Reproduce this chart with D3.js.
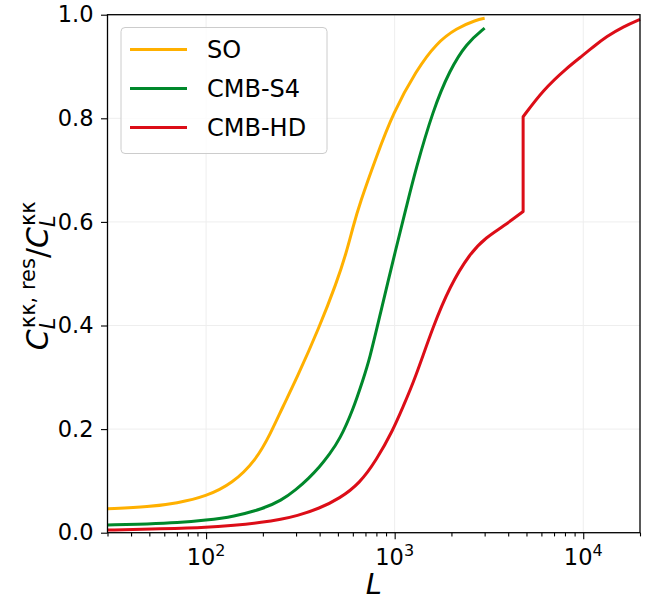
<!DOCTYPE html>
<html>
<head>
<meta charset="utf-8">
<script src="https://cdn.jsdelivr.net/npm/d3@7"></script>
<style>
  body { margin: 0; background: #fff; }
  text { font-family: "DejaVu Sans", sans-serif; fill: #000; }
</style>
</head>
<body>
<script>
// multipole L and residual fraction
const soL = [30, 50, 70, 100, 138, 184, 220, 255, 300, 400, 490, 554, 601, 652, 800, 980, 1304, 1664, 2126, 2716, 3000]
const soV = [0.046, 0.050, 0.057, 0.070, 0.095, 0.140, 0.192, 0.243, 0.295, 0.398, 0.481, 0.540, 0.590, 0.635, 0.726, 0.810, 0.893, 0.945, 0.974, 0.990, 0.993]

const s4L = [30, 50, 70, 100, 140, 200, 250, 300, 350, 400, 450, 510, 601, 679, 736, 832, 1021, 1154, 1290, 1597, 1958, 2403, 3000]
const s4V = [0.015, 0.017, 0.019, 0.024, 0.031, 0.046, 0.062, 0.083, 0.105, 0.127, 0.151, 0.179, 0.237, 0.295, 0.335, 0.417, 0.552, 0.629, 0.700, 0.816, 0.893, 0.945, 0.974]

const hdL = [30, 50, 100, 140, 200, 250, 300, 400, 510, 652, 800, 980, 1107, 1276, 1597, 1958, 2500, 3069, 3758, 4800, 4800, 6134, 8166, 10000, 11300, 13300, 16300, 20000]
const hdV = [0.005, 0.007, 0.010, 0.014, 0.020, 0.026, 0.032, 0.047, 0.066, 0.095, 0.140, 0.198, 0.243, 0.295, 0.398, 0.475, 0.539, 0.571, 0.591, 0.620, 0.803, 0.855, 0.897, 0.922, 0.938, 0.958, 0.977, 0.991]

const names = ["SO", "CMB-S4", "CMB-HD"]
const colors = ["#ffb000", "#00882b", "#dc0d17"]
const yTicks = [0, 0.2, 0.4, 0.6, 0.8, 1.0]
const xTicks = [100, 1000, 10000]
const xTickExp = ["2", "3", "4"]

const W = 647, H = 601
const m = {left: 107.5, right: 7, top: 14.7, bottom: 68.3}
const iw = W - m.left - m.right, ih = H - m.top - m.bottom

const svg = d3.select("body").append("svg")
    .attr("width", W)
    .attr("height", H)

const x = d3.scaleLog().domain([30, 20000]).range([0, iw])
const y = d3.scaleLinear().domain([0, 1]).range([ih, 0])

const g = svg.append("g").attr("transform", `translate(${m.left},${m.top})`)

// grid
g.selectAll(".gx").data(xTicks).enter().append("line")
    .attr("x1", d => x(d)).attr("x2", d => x(d))
    .attr("y1", 0).attr("y2", ih)
    .attr("stroke", "#eeeeee").attr("stroke-width", 1)
g.selectAll(".gy").data(yTicks).enter().append("line")
    .attr("x1", 0).attr("x2", iw)
    .attr("y1", d => y(d)).attr("y2", d => y(d))
    .attr("stroke", "#eeeeee").attr("stroke-width", 1)

// curves - split where L repeats (the step in CMB-HD)
function drawSeries(L, V, col) {
    const pts = L.map((l, i) => [l, V[i]])
    const pieces = []
    let cur = [pts[0]]
    for (let i = 1; i < pts.length; i++) {
        if (pts[i][0] === pts[i-1][0]) {
            pieces.push(cur)
            pieces.push([pts[i-1], pts[i]])
            cur = [pts[i]]
        } else {
            cur.push(pts[i])
        }
    }
    pieces.push(cur)
    const line = d3.line().x(d => x(d[0])).y(d => y(d[1])).curve(d3.curveBasis)
    const straight = d3.line().x(d => x(d[0])).y(d => y(d[1]))
    const dstr = pieces.map(p => (p.length == 2 && p[0][0] === p[1][0]) ? straight(p) : line(p))
        .map((s, i) => i == 0 ? s : "L" + s.slice(1)).join("")
    g.append("path")
        .attr("d", dstr)
        .attr("fill", "none")
        .attr("stroke", col)
        .attr("stroke-width", 3)
        .attr("stroke-linejoin", "round")
}
drawSeries(soL, soV, colors[0])
drawSeries(s4L, s4V, colors[1])
drawSeries(hdL, hdV, colors[2])

// axes
const xAxis = d3.axisBottom(x)
    .tickValues(xTicks)
    .tickSize(6.5)
    .tickFormat("")
g.append("g").attr("transform", `translate(0,${ih})`).call(xAxis)

const minor = []
for (let e = 1; e <= 4; e++) for (let k = 2; k <= 9; k++) {
    const v = k * Math.pow(10, e)
    if (v >= 30 && v <= 20000) minor.push(v)
}
g.append("g").attr("transform", `translate(0,${ih})`)
    .call(d3.axisBottom(x).tickValues(minor).tickSize(3.7).tickFormat(""))

g.append("g").call(d3.axisLeft(y).tickValues(yTicks).tickSize(6.5).tickFormat(d3.format(".1f")))

g.selectAll(".domain").remove()
g.selectAll(".tick line").attr("stroke", "#000").attr("stroke-width", 1.1)
g.selectAll(".tick text").style("font-size", "22.5px").attr("x", -14).attr("fill", "#000")

// frame
g.append("rect")
    .attr("width", iw).attr("height", ih)
    .attr("fill", "none").attr("stroke", "#000").attr("stroke-width", 1.3)

// x tick labels 10^n
xTicks.forEach((t, i) => {
    const tx = g.append("text")
        .attr("x", x(t)).attr("y", ih + 32.5)
        .attr("text-anchor", "middle")
        .style("font-size", "22.5px")
    tx.append("tspan").text("10")
    tx.append("tspan").text(xTickExp[i]).attr("dy", -9).style("font-size", "16px")
})

// x label
g.append("text")
    .attr("x", iw / 2).attr("y", ih + 61)
    .attr("text-anchor", "middle")
    .style("font-size", "29px").style("font-style", "italic")
    .text("L")

// y label: C_L^{κκ, res} / C_L^{κκ}
const yl = svg.append("g")
const parts = []
function addMain(txt, italic) {
    const t = yl.append("text").text(txt).style("font-size", "30px")
    if (italic) t.style("font-style", "italic")
    parts.push({el: t, kind: "main"})
}
function addSupSub(sup, sub) {
    const a = yl.append("text").text(sup).style("font-size", "21px")
    const b = yl.append("text").text(sub).style("font-size", "21px").style("font-style", "italic")
    parts.push({el: a, el2: b, kind: "ss"})
}
addMain("C", true)
addSupSub("κκ, res", "L")
addMain("/", false)
addMain("C", true)
addSupSub("κκ", "L")
let cx = 0
parts.forEach(p => {
    if (p.kind == "main") {
        p.el.attr("x", cx).attr("y", 0)
        cx += p.el.node().getComputedTextLength()
    } else {
        p.el.attr("x", cx + 1).attr("y", -13)
        p.el2.attr("x", cx).attr("y", 7)
        cx += Math.max(p.el.node().getComputedTextLength(), p.el2.node().getComputedTextLength()) + 1
    }
})
yl.attr("transform", `translate(48,${m.top + ih / 2 + 2}) rotate(-90) translate(${-cx / 2},0)`)

// legend
const lg = svg.append("g").attr("transform", "translate(121,27.5)")
lg.append("rect")
    .attr("width", 206).attr("height", 126).attr("rx", 4)
    .attr("fill", "#fff").attr("fill-opacity", 0.8)
    .attr("stroke", "#cccccc").attr("stroke-width", 1)
names.forEach((n, i) => {
    lg.append("line")
        .attr("x1", 9).attr("x2", 66)
        .attr("y1", 22 + i * 39).attr("y2", 22 + i * 39)
        .attr("stroke", colors[i]).attr("stroke-width", 3)
    lg.append("text")
        .attr("x", 86).attr("y", 22 + i * 39)
        .attr("dominant-baseline", "central")
        .style("font-size", "24px")
        .text(n)
})
</script>
</body>
</html>
